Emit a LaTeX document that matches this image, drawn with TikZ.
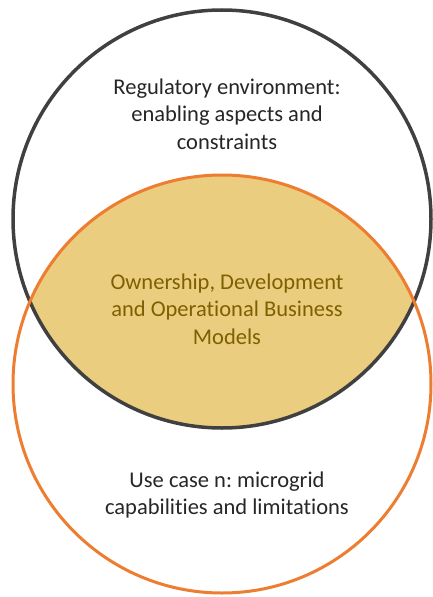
\documentclass[tikz,border=0pt]{standalone}
\usepackage{fontspec}
\setmainfont[Ligatures=NoCommon]{Carlito}
\frenchspacing
\usetikzlibrary{positioning}
\definecolor{ringgray}{HTML}{404040}
\definecolor{ringorange}{HTML}{ED7D31}
\definecolor{lensfill}{HTML}{EACD7F}
\definecolor{lenstext}{HTML}{7F6000}
\tikzstyle{ringtext} = [text centered, align=center, font=\fontsize{22.5}{27.5}\selectfont, text=black!85]
\tikzstyle{upper} = [draw=ringgray, line width=3.5pt]
\tikzstyle{lower} = [draw=ringorange, line width=3pt]

\begin{document}
\begin{tikzpicture}[x=1pt, y=-1pt]
    \useasboundingbox (0,0) rectangle (432,597);

    % Circle centres
    \coordinate (top) at (222,219);
    \coordinate (bot) at (222,384);

    % Overlap
    \begin{scope}
        \clip (top) circle (209);
        \fill [lensfill] (bot) circle (209);
    \end{scope}

    % Circles
    \draw [upper] (top) circle (209);
    \draw [lower] (bot) circle (209);

    % Texts
    \node (regulatory) [ringtext] at (227,114) {Regulatory environment:\\enabling aspects and\\constraints};
    \node (business) [ringtext, text=lenstext] at (227,309) {Ownership, Development\\and Operational Business\\Models};
    \node (usecase) [ringtext] at (227,495) {Use case n: microgrid\\capabilities and limitations};

\end{tikzpicture}
\end{document}
